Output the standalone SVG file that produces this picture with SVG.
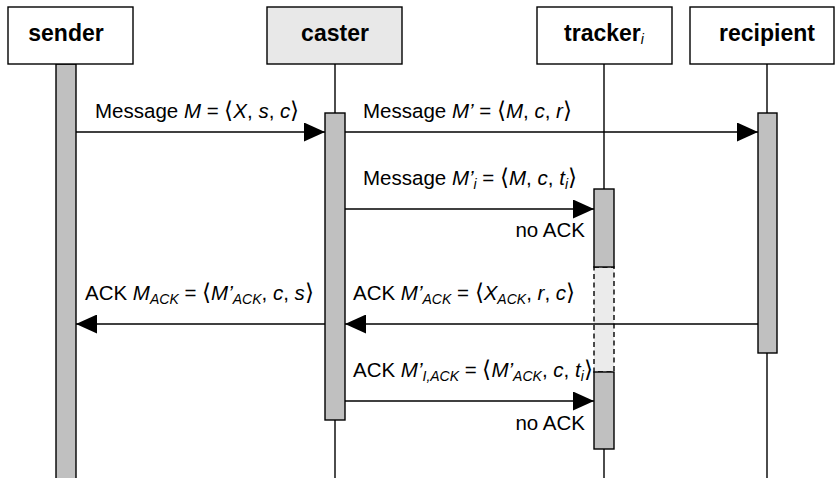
<svg xmlns="http://www.w3.org/2000/svg" width="835" height="478" viewBox="0 0 835 478">
  <style>
    .box { fill: #ffffff; stroke: #000000; stroke-width: 1.4; }
    .box.hl { fill: #e8e8e8; }
    .head { font-family: "Liberation Sans", Arial, sans-serif; font-size: 23px; font-weight: bold; text-anchor: middle; fill: #000; }
    .life { stroke: #000000; stroke-width: 1.4; fill: none; }
    .bar { fill: #c0c0c0; stroke: #000000; stroke-width: 1.4; }
    .bar.off { fill: #ebebeb; stroke-dasharray: 5 3.5; }
    .msg { stroke: #000000; stroke-width: 1.5; fill: none; }
    .lbl { font-family: "Liberation Sans", Arial, "DejaVu Sans", sans-serif; font-size: 20.5px; fill: #000; }
    .it { font-style: italic; }
    .sub { font-size: 14px; font-style: italic; }
    .br { font-family: "DejaVu Sans", sans-serif; font-weight: 200; font-size: 23px; }
  </style>
  <defs>
    <marker id="head" viewBox="0 0 21 19" refX="21" refY="9.5" markerWidth="21" markerHeight="19" markerUnits="userSpaceOnUse" orient="auto">
      <path d="M0,0 L21,9.5 L0,19 Z" fill="#000000"/>
    </marker>
  </defs>

  <!-- participant: sender -->
  <g id="sender">
    <rect class="bar" x="56" y="64" width="20" height="420"/>
    <rect class="box" x="8" y="7" width="125" height="57"/>
    <text class="head" x="66" y="41">sender</text>
  </g>

  <!-- participant: caster -->
  <g id="caster">
    <line class="life" x1="335" y1="64" x2="335" y2="478"/>
    <rect class="bar" x="325" y="113" width="20" height="307"/>
    <rect class="box hl" x="267" y="7" width="135" height="57"/>
    <text class="head" x="335" y="41">caster</text>
  </g>

  <!-- participant: tracker_i -->
  <g id="tracker">
    <line class="life" x1="604" y1="64" x2="604" y2="189"/>
    <line class="life" x1="604" y1="449" x2="604" y2="478"/>
    <rect class="bar off" x="594" y="267" width="20" height="105"/>
    <rect class="bar" x="594" y="189" width="20" height="78"/>
    <rect class="bar" x="594" y="372" width="20" height="77"/>
    <rect class="box" x="537" y="7" width="135" height="57"/>
    <text class="head" x="604" y="41">tracker<tspan font-size="14" font-weight="normal" font-style="italic" dy="3">i</tspan></text>
  </g>

  <!-- participant: recipient -->
  <g id="recipient">
    <line class="life" x1="767" y1="64" x2="767" y2="478"/>
    <rect class="bar" x="758" y="113" width="19" height="240"/>
    <rect class="box" x="690" y="7" width="144" height="57"/>
    <text class="head" x="767" y="41">recipient</text>
  </g>

  <!-- messages -->
  <g id="connectors">
    <line class="msg" x1="76" y1="132" x2="325" y2="132" marker-end="url(#head)"/>
    <line class="msg" x1="345" y1="132" x2="758" y2="132" marker-end="url(#head)"/>
    <line class="msg" x1="345" y1="209" x2="594" y2="209" marker-end="url(#head)"/>
    <line class="msg" x1="758" y1="324" x2="345" y2="324" marker-end="url(#head)"/>
    <line class="msg" x1="325" y1="324" x2="76" y2="324" marker-end="url(#head)"/>
    <line class="msg" x1="345" y1="401" x2="594" y2="401" marker-end="url(#head)"/>
  </g>

  <!-- message labels -->
  <g id="labels">
    <text class="lbl" x="95" y="118">Message <tspan class="it">M</tspan> = <tspan class="br">⟨</tspan><tspan class="it">X</tspan>, <tspan class="it">s</tspan>, <tspan class="it">c</tspan><tspan class="br">⟩</tspan></text>
    <text class="lbl" x="363" y="118">Message <tspan class="it">M’</tspan> = <tspan class="br">⟨</tspan><tspan class="it">M</tspan>, <tspan class="it">c</tspan>, <tspan class="it">r</tspan><tspan class="br">⟩</tspan></text>
    <text class="lbl" x="363" y="185">Message <tspan class="it">M’</tspan><tspan class="sub" dy="4">i</tspan><tspan dy="-4"> = </tspan><tspan class="br">⟨</tspan><tspan class="it">M</tspan>, <tspan class="it">c</tspan>, <tspan class="it">t</tspan><tspan class="sub" dy="4">i</tspan><tspan class="br" dy="-4">⟩</tspan></text>
    <text class="lbl" x="585" y="237" text-anchor="end">no ACK</text>
    <text class="lbl" x="85" y="300">ACK <tspan class="it">M</tspan><tspan class="sub" dy="4">ACK</tspan><tspan dy="-4"> = </tspan><tspan class="br">⟨</tspan><tspan class="it">M’</tspan><tspan class="sub" dy="4">ACK</tspan><tspan dy="-4">, </tspan><tspan class="it">c</tspan>, <tspan class="it">s</tspan><tspan class="br">⟩</tspan></text>
    <text class="lbl" x="353" y="300">ACK <tspan class="it">M’</tspan><tspan class="sub" dy="4">ACK</tspan><tspan dy="-4"> = </tspan><tspan class="br">⟨</tspan><tspan class="it">X</tspan><tspan class="sub" dy="4">ACK</tspan><tspan dy="-4">, </tspan><tspan class="it">r</tspan>, <tspan class="it">c</tspan><tspan class="br">⟩</tspan></text>
    <text class="lbl" x="353" y="377">ACK <tspan class="it">M’</tspan><tspan class="sub" dy="4">I,ACK</tspan><tspan dy="-4"> = </tspan><tspan class="br">⟨</tspan><tspan class="it">M’</tspan><tspan class="sub" dy="4">ACK</tspan><tspan dy="-4">, </tspan><tspan class="it">c</tspan>, <tspan class="it">t</tspan><tspan class="sub" dy="4">i</tspan><tspan class="br" dy="-4">⟩</tspan></text>
    <text class="lbl" x="585" y="430" text-anchor="end">no ACK</text>
  </g>
</svg>
